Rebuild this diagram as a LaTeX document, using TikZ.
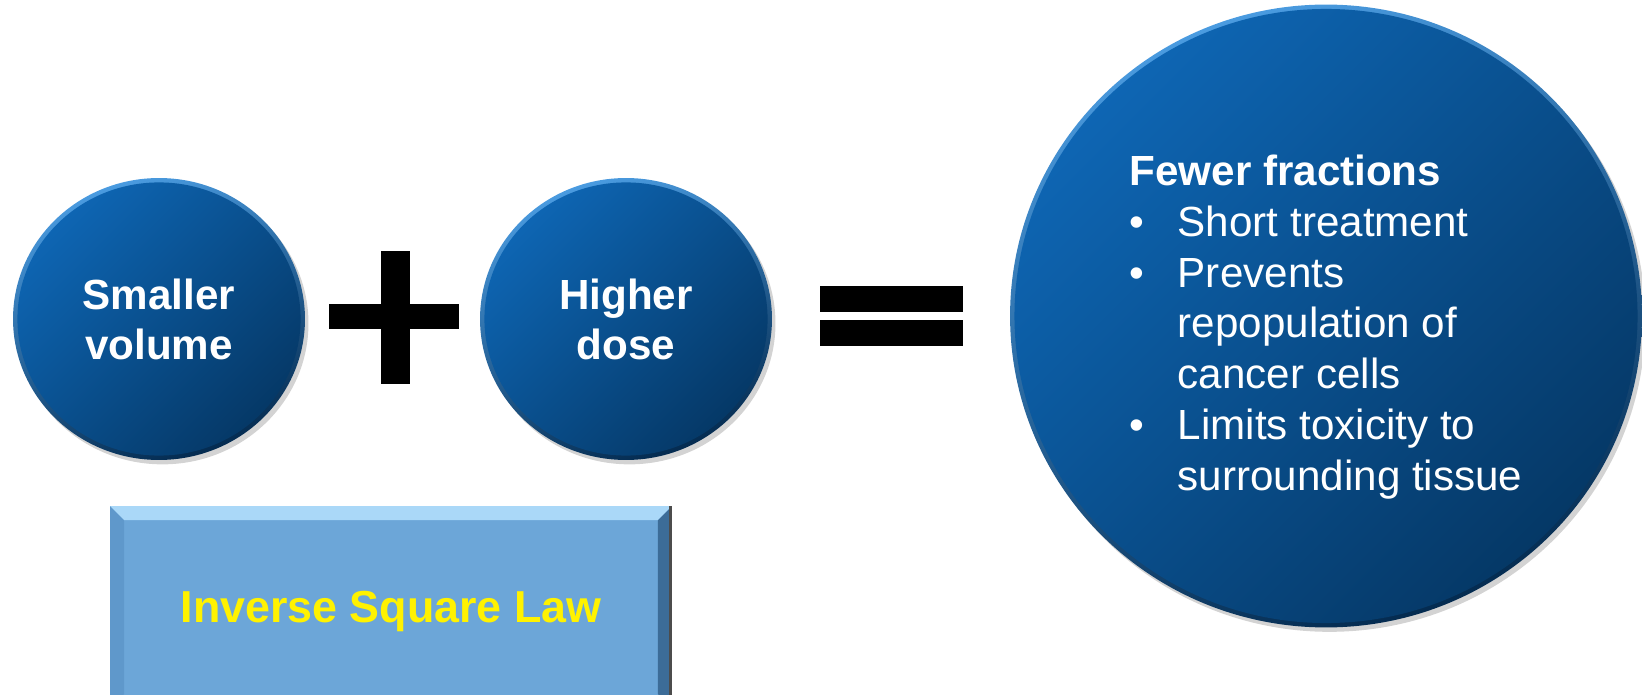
\documentclass[tikz,border=0pt]{standalone}
\usepackage{fontspec}
\setmainfont{Liberation Sans}
\usetikzlibrary{shapes.geometric,shadows,calc}
\definecolor{balltop}{HTML}{0E66B4}
\definecolor{ballbot}{HTML}{053866}
\definecolor{rimtop}{HTML}{4A9BE0}
\definecolor{rimbot}{HTML}{042B50}
\definecolor{boxfill}{HTML}{6CA6D8}
\definecolor{bevtop}{HTML}{AAD8F8}
\definecolor{bevleft}{HTML}{5F98CB}
\definecolor{bevright}{HTML}{3C6C98}
\tikzset{
	ball/.style={ellipse, inner sep=0pt, text=white, align=center,
		font=\bfseries\fontsize{24}{28.5}\selectfont,
		drop shadow={opacity=0.35, shadow xshift=2pt, shadow yshift=-2.5pt},
		top color=rimtop, bottom color=rimbot, shading angle=20,
		path picture={
			\shade[top color=balltop, bottom color=ballbot, shading angle=45]
				let \p1=(path picture bounding box.north east),
				\p2=(path picture bounding box.center) in
				(\p2) ellipse [x radius=\x1-\x2-2.5pt, y radius=\y1-\y2-2.5pt];
		}},
	lawbox/.style={rectangle, fill=boxfill, text=yellow, text depth=0pt,
		minimum width=11.24cm, minimum height=4.04cm,
		font=\bfseries\fontsize{25.5}{30}\selectfont,
		path picture={
			\coordinate (bnw) at (path picture bounding box.north west);
			\coordinate (bne) at (path picture bounding box.north east);
			\coordinate (bsw) at (path picture bounding box.south west);
			\coordinate (bse) at (path picture bounding box.south east);
			\fill[bevleft] (bnw) -- ([shift={(8pt,-8pt)}]bnw) -- ([shift={(8pt,8pt)}]bsw) -- (bsw) -- cycle;
			\fill[bevright] (bne) -- ([shift={(-8pt,-8pt)}]bne) -- ([shift={(-8pt,8pt)}]bse) -- (bse) -- cycle;
			\fill[bevtop] (bnw) -- (bne) -- ([shift={(-8pt,-8pt)}]bne) -- ([shift={(8pt,-8pt)}]bnw) -- cycle;
			\fill[black!70] ([xshift=-1.5pt]bne) rectangle (bse);
		}},
	bar/.style={fill=black}
}
\begin{document}
\begin{tikzpicture}[x=0.02cm, y=-0.02cm]
	\clip (0,0) rectangle (1642,695);

	% Nodes
	\node[ball, minimum width=5.84cm, minimum height=5.64cm] (vol) at (159,319) {Smaller\\volume};
	\node[ball, minimum width=5.84cm, minimum height=5.64cm] (dose) at (626,319) {Higher\\dose};
	\node[ball, minimum width=12.64cm, minimum height=12.46cm, align=left,
		font=\fontsize{24}{29}\selectfont] (frac) at (1326,316) {%
		\rule{0pt}{30pt}\textbf{Fewer fractions}\\
		\makebox[27.5pt][l]{\textbullet}Short treatment\\
		\makebox[27.5pt][l]{\textbullet}Prevents\\
		\hspace*{27.5pt}repopulation of\\
		\hspace*{27.5pt}cancer cells\\
		\makebox[27.5pt][l]{\textbullet}Limits toxicity to\\
		\hspace*{27.5pt}surrounding tissue};
	\node[lawbox] (law) at (391,607) {Inverse Square Law};

	% Signs
	\fill[bar] (381,251) rectangle (410,384);
	\fill[bar] (329,304) rectangle (459,329);
	\fill[bar] (820,286) rectangle (963,312);
	\fill[bar] (820,320) rectangle (963,346);
\end{tikzpicture}
\end{document}
